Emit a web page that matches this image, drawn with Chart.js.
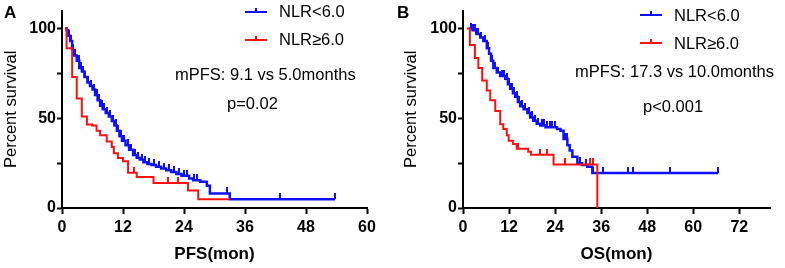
<!DOCTYPE html>
<html>
<head>
<meta charset="utf-8">
<script src="https://cdn.jsdelivr.net/npm/chart.js@4.4.1/dist/chart.umd.min.js"></script>
<style>
  html, body { margin: 0; padding: 0; background: #fff; }
  #wrap { position: relative; width: 785px; height: 268px; overflow: hidden; }
  canvas { position: absolute; top: 0; }
</style>
</head>
<body>
<div id="wrap">
  <canvas id="pfsChart" width="390" height="268" style="left:0"></canvas>
  <canvas id="osChart" width="395" height="268" style="left:390px"></canvas>
</div>
<script>
// ---- data ----
const legendLow = 'NLR<6.0';
const legendHigh = 'NLR\u22656.0';

// panel A: PFS
const pfsLowTime = [0.6, 0.9, 1.2, 1.6, 2.0, 2.4, 2.9, 3.4, 3.9, 4.4, 5.0, 5.5, 6.0, 6.5, 7.0, 7.5, 8.0, 8.6, 9.2, 9.8, 10.3, 10.8, 11.3, 11.8, 12.5, 13.2, 14.0, 14.7, 15.3, 16.0, 16.8, 17.6, 18.5, 19.5, 20.5, 21.5, 22.5, 23.5, 25.0, 25.8, 27.2, 28.5, 29.1, 33.0, 53.7];
const pfsLowSurv = [100, 99, 96, 93, 88, 85, 82, 78, 76, 73, 70, 68, 66, 63, 60, 57, 55, 53, 51, 48.5, 46, 43, 40, 37.5, 35, 32.5, 29.5, 28, 27, 25.5, 24.5, 24, 23, 22, 21, 20, 19, 18, 16.5, 15.5, 14.6, 12.4, 8.1, 4.9, 4.9];
const pfsLowCens = [1.4, 1.8, 2.2, 2.6, 3.0, 3.3, 3.7, 4.1, 4.6, 5.2, 5.8, 6.3, 6.8, 7.3, 7.8, 8.3, 8.9, 9.5, 10.0, 10.6, 11.1, 11.6, 12.2, 12.9, 13.6, 14.3, 15.0, 15.7, 16.4, 17.2, 18.0, 19.0, 20.0, 21.0, 22.0, 23.0, 24.0, 24.5, 26.0, 26.5, 32.4, 42.9, 53.7];
const pfsHighTime = [0.6, 0.9, 2.0, 2.9, 3.9, 4.9, 5.9, 6.8, 7.5, 8.8, 9.8, 10.2, 11.0, 12.0, 13.0, 14.7, 18.0, 24.8, 26.8, 33.0];
const pfsHighSurv = [100, 89, 73, 61, 51, 46.5, 46, 43, 40.5, 37, 34, 30.5, 27.8, 26, 19.6, 17.3, 14, 9.7, 4.9, 4.9];
const pfsHighCens = [14.2, 20.9, 22.8];
const pfsTicks = [0, 12, 24, 36, 48, 60];
const pfsNote = 'mPFS: 9.1 vs 5.0months';
const pfsP = 'p=0.02';

// panel B: OS
const osLowTime = [1.6, 2.5, 3.5, 4.5, 5.3, 6.2, 6.8, 7.3, 7.9, 8.8, 9.7, 11.0, 11.7, 12.3, 13.0, 13.6, 14.3, 14.9, 15.8, 16.8, 17.5, 18.3, 19.2, 20.1, 21.5, 24.5, 25.4, 26.2, 27.2, 27.8, 28.5, 29.8, 31.0, 32.4, 33.7, 66.5];
const osLowSurv = [100, 99, 97, 95, 93, 89, 86, 82, 78, 75.5, 73.6, 72, 69, 66.5, 64, 62, 59, 56.7, 55, 53, 50.5, 48.6, 47, 46, 45, 44, 43, 38.4, 35, 32, 28.6, 25, 24, 23, 19.5, 19.5];
const osLowCens = [2.2, 2.7, 3.0, 3.5, 4.0, 4.8, 5.8, 6.5, 7.6, 8.3, 9.2, 10.2, 10.6, 11.4, 12.0, 12.7, 13.3, 14.0, 14.6, 15.3, 16.2, 17.1, 17.9, 18.7, 19.6, 20.6, 21.0, 22.0, 22.6, 23.2, 24.0, 26.6, 27.0, 30.4, 32.0, 34.0, 36.4, 43.0, 44.2, 54.0, 66.5];
const osHighTime = [1.0, 1.8, 3.1, 4.0, 5.0, 6.2, 7.1, 8.4, 9.7, 10.5, 11.4, 11.9, 13.0, 14.0, 17.0, 17.7, 23.6, 35.0];
const osHighSurv = [100, 90.8, 83.6, 78, 71, 65.5, 60, 54, 46.6, 44, 40.5, 37.5, 35.7, 33, 31.4, 29.7, 24.3, 0];
const osHighCens = [14.4, 20.0, 22.0, 26.7, 33.2, 34.0];
const osTicks = [0, 12, 24, 36, 48, 60, 72];
const osNote = 'mPFS: 17.3 vs 10.0months';
const osP = 'p<0.001';

const yTicks = [0, 25, 50, 75, 100];
const yLabelled = [0, 50, 100];

// ---- drawing ----
const BLUE = '#1010ff';
const RED = '#ff1010';
const FONT = '"Liberation Sans", Arial, Helvetica, sans-serif';
Chart.defaults.font.family = FONT;
Chart.defaults.color = '#000';

function curve(times, surv) {
    return times.map((t, i) => ({x: t, y: surv[i]}));
}

function survAt(times, surv, t) {
    let s = surv[0];
    for (let i = 0; i < times.length; i++) {
        if (times[i] <= t) s = surv[i];
    }
    return s;
}

function censorMarks(cens, times, surv) {
    return cens.map(t => ({x: t, y: survAt(times, surv, t)}));
}

// small upward tick used as censor mark
function tickImage(color) {
    const c = document.createElement('canvas');
    c.width = 2;
    c.height = 12;
    const g = c.getContext('2d');
    g.fillStyle = color;
    g.fillRect(0, 0, 2, 6);
    return c;
}

function notesPlugin(items) {
    return {
        id: 'notes',
        afterDraw(chart) {
            const ctx = chart.ctx;
            ctx.save();
            ctx.textBaseline = 'middle';
            ctx.textAlign = 'left';
            ctx.fillStyle = '#000';
            items.forEach(it => {
                if (it.key) {
                    ctx.strokeStyle = it.key;
                    ctx.lineWidth = 2;
                    ctx.beginPath();
                    ctx.moveTo(it.x, it.y);
                    ctx.lineTo(it.x + 22, it.y);
                    ctx.moveTo(it.x + 11, it.y);
                    ctx.lineTo(it.x + 11, it.y - 4);
                    ctx.stroke();
                } else {
                    ctx.font = it.font || ('16.5px ' + FONT);
                    ctx.fillText(it.text, it.x, it.y);
                }
            });
            ctx.restore();
        }
    };
}

function makeChart(id, cfg) {
    const lowCurve = curve(cfg.lowTime, cfg.lowSurv);
    const highCurve = curve(cfg.highTime, cfg.highSurv);
    return new Chart(document.getElementById(id), {
        type: 'line',
        data: {
            datasets: [{
                data: highCurve,
                borderColor: RED,
                borderWidth: 2,
                stepped: 'before',
                pointRadius: 0,
                clip: 4,
            }, {
                data: censorMarks(cfg.highCens, cfg.highTime, cfg.highSurv),
                showLine: false,
                pointStyle: tickImage(RED),
                pointRadius: 3,
                clip: 6,
            }, {
                data: lowCurve,
                borderColor: BLUE,
                borderWidth: 2.5,
                stepped: 'before',
                pointRadius: 0,
                clip: 4,
            }, {
                data: censorMarks(cfg.lowCens, cfg.lowTime, cfg.lowSurv),
                showLine: false,
                pointStyle: tickImage(BLUE),
                pointRadius: 3,
                clip: 6,
            }]
        },
        options: {
            responsive: false,
            animation: false,
            devicePixelRatio: 1,
            layout: {padding: cfg.padding},
            plugins: {legend: {display: false}, tooltip: {enabled: false}},
            scales: {
                x: {
                    type: 'linear',
                    min: 0,
                    max: cfg.xMax,
                    afterBuildTicks: s => { s.ticks = cfg.xTicks.map(v => ({value: v})); },
                    afterFit: s => { s.height = 60; },
                    grid: {drawOnChartArea: false, drawTicks: true, tickLength: 6, tickWidth: 2, tickColor: '#000'},
                    border: {display: true, width: 2, color: '#000'},
                    ticks: {font: {size: 16, weight: 'bold'}, padding: 4, maxRotation: 0},
                    title: {display: true, text: cfg.xTitle, font: {size: 17, weight: 'bold'}, padding: {top: 0, bottom: 3.5}}
                },
                y: {
                    min: 0,
                    max: 110,
                    afterBuildTicks: s => { s.ticks = yTicks.map(v => ({value: v})); },
                    afterFit: s => { s.width = cfg.yWidth; },
                    grid: {drawOnChartArea: false, drawTicks: true, tickLength: 5, tickWidth: 2, tickColor: '#000'},
                    border: {display: true, width: 2, color: '#000'},
                    ticks: {
                        font: {size: 16, weight: 'bold'},
                        padding: 1,
                        callback: v => yLabelled.includes(v) ? String(v) : ''
                    },
                    title: {display: true, text: 'Percent survival', font: {size: 16.5}, padding: {top: 2, bottom: 0}}
                }
            }
        },
        plugins: [notesPlugin(cfg.notes)]
    });
}

makeChart('pfsChart', {
    lowTime: pfsLowTime, lowSurv: pfsLowSurv, lowCens: pfsLowCens,
    highTime: pfsHighTime, highSurv: pfsHighSurv, highCens: pfsHighCens,
    xMax: 60, xTicks: pfsTicks, xTitle: 'PFS(mon)',
    yWidth: 62,
    padding: {left: 0, top: 4, right: 23, bottom: 0},
    notes: [
        {text: 'A', x: 4, y: 13, font: 'bold 17px ' + FONT},
        {key: BLUE, x: 245, y: 12},
        {text: legendLow, x: 279, y: 12},
        {key: RED, x: 245, y: 40},
        {text: legendHigh, x: 279, y: 40},
        {text: pfsNote, x: 175, y: 75},
        {text: pfsP, x: 227, y: 104}
    ]
});

makeChart('osChart', {
    lowTime: osLowTime, lowSurv: osLowSurv, lowCens: osLowCens,
    highTime: osHighTime, highSurv: osHighSurv, highCens: osHighCens,
    xMax: 80, xTicks: osTicks, xTitle: 'OS(mon)',
    yWidth: 63,
    padding: {left: 10, top: 4, right: 15, bottom: 0},
    notes: [
        {text: 'B', x: 7, y: 13, font: 'bold 17px ' + FONT},
        {key: BLUE, x: 250, y: 15},
        {text: legendLow, x: 284, y: 16},
        {key: RED, x: 250, y: 43},
        {text: legendHigh, x: 284, y: 44},
        {text: osNote, x: 185, y: 72},
        {text: osP, x: 253, y: 107}
    ]
});
</script>
</body>
</html>
